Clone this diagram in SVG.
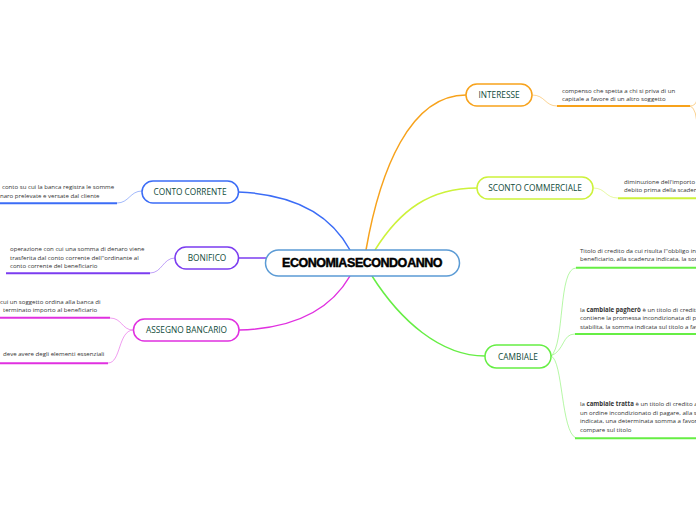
<svg xmlns="http://www.w3.org/2000/svg" width="696" height="520" viewBox="0 0 696 520">
<style>
.node{fill:#ffffff;stroke-width:1.5}
.lbl{font-family:"Open Sans","Noto Sans","Liberation Sans",sans-serif;font-size:8.3px;fill:#0f4b3a;text-anchor:middle}
.sub{font-family:"Open Sans","Noto Sans","Liberation Sans",sans-serif;font-size:6.1px;fill:#333333}
.b{font-weight:bold}
.main{fill:none;stroke-width:1.5}
.thin{fill:none;stroke-width:0.8;opacity:0.6}
.ul{fill:none;stroke-width:2}
.blue{stroke:#3b6cf6}.purple{stroke:#7b3cf0}.mag{stroke:#e030e0}.orange{stroke:#f7a21b}.yg{stroke:#cdf23b}.green{stroke:#66ee44}
</style>
<rect width="696" height="520" fill="#ffffff"/>
<g id="connectors">
<path class="main blue" d="M238,192 Q320,195 350,250"/>
<path class="main purple" d="M238,258 L266,258"/>
<path class="main mag" d="M350,276 Q320,328 239,330"/>
<path class="main orange" d="M366,250 C380,170 410,95 466,95"/>
<path class="main yg" d="M375,250 C400,210 430,188 477,188"/>
<path class="main green" d="M372,276 C400,320 440,356 485,356"/>
<path class="thin blue" d="M142,191 C130,191 129,203 117,203"/>
<path class="ul blue" d="M0,203.3 L117,203.3"/>
<path class="thin purple" d="M175,258 C163,258 162,273 150,273"/>
<path class="ul purple" d="M6,273.3 L150,273.3"/>
<path class="thin mag" d="M133,330 C122,330 122,318 110,318"/>
<path class="ul mag" d="M0,317.7 L110,317.7"/>
<path class="thin mag" d="M133,330 C118,331 121,363 108,363"/>
<path class="ul mag" d="M0,363.3 L108,363.3"/>
<path class="thin orange" d="M532,95 C545,95 545,106 557,106"/>
<path class="ul orange" d="M557,106 L690,106"/>
<path class="thin orange" d="M690,106 Q696,106 697,99"/>
<path class="thin orange" d="M690,106 Q697,108 697,130"/>
<path class="thin yg" d="M593,188 C606,188 605,198 618,198"/>
<path class="ul yg" d="M618,198.3 L696,198.3"/>
<path class="thin green" d="M551,356 C565,345 558,268 576,268"/>
<path class="ul green" d="M576,267.7 L696,267.7"/>
<path class="thin green" d="M551,356 C565,350 562,334 575,334"/>
<path class="ul green" d="M575,334 L696,334"/>
<path class="thin green" d="M551,356 C563,360 561,432 576,438"/>
<path class="ul green" d="M575,438.3 L696,438.3"/>
</g>
<g id="center">
<rect x="265.5" y="250" width="194" height="26" rx="13" fill="#ffffff" stroke="#5b9bd5" stroke-width="1.5"/>
<text x="362" y="267.3" text-anchor="middle" font-family="Liberation Sans, Arial, sans-serif" font-weight="900" font-size="12.5" letter-spacing="-0.5" word-spacing="-2.2" fill="#000000" stroke="#000000" stroke-width="0.45">ECONOMIA SECONDO ANNO</text>
</g>
<g id="conto-corrente">
<rect class="node blue" x="142" y="181" width="96.5" height="22" rx="11"/>
<text class="lbl" x="190" y="195">CONTO CORRENTE</text>
<text class="sub" x="2" y="188.7">conto su cui la banca registra le somme</text>
<text class="sub" x="0" y="197.7">naro prelevate e versate dal cliente</text>
</g>
<g id="bonifico">
<rect class="node purple" x="175" y="247" width="63.5" height="22" rx="11"/>
<text class="lbl" x="207" y="261">BONIFICO</text>
<text class="sub" x="10" y="251">operazione con cui una somma di denaro viene</text>
<text class="sub" x="10" y="259.5">trasferita dal conto corrente dell''ordinante al</text>
<text class="sub" x="10" y="268">conto corrente del beneficiario</text>
</g>
<g id="assegno-bancario">
<rect class="node mag" x="133.5" y="319" width="105.5" height="22" rx="11"/>
<text class="lbl" x="186.5" y="333">ASSEGNO BANCARIO</text>
<text class="sub" x="0" y="303.7">cui un soggetto ordina alla banca di</text>
<text class="sub" x="3" y="312">terminato importo al beneficiario</text>
<text class="sub" x="3" y="356">deve avere degli elementi essenziali</text>
</g>
<g id="interesse">
<rect class="node orange" x="466" y="84" width="66" height="22" rx="11"/>
<text class="lbl" x="499" y="98">INTERESSE</text>
<text class="sub" x="562" y="92.7">compenso che spetta a chi si priva di un</text>
<text class="sub" x="562" y="101">capitale a favore di un altro soggetto</text>
</g>
<g id="sconto-commerciale">
<rect class="node yg" x="477" y="177" width="116" height="22" rx="11"/>
<text class="lbl" x="535" y="191">SCONTO COMMERCIALE</text>
<text class="sub" x="624" y="184.3">diminuzione dell'importo d</text>
<text class="sub" x="624" y="192">debito prima della scaden</text>
</g>
<g id="cambiale">
<rect class="node green" x="485" y="345" width="66" height="23" rx="11.5"/>
<text class="lbl" x="518" y="359.5">CAMBIALE</text>
<text class="sub" x="580" y="253">Titolo di credito da cui risulta l''obbligo inco</text>
<text class="sub" x="580" y="261.3">beneficiario, alla scadenza indicata, la som</text>
<text class="sub" x="580" y="312">la <tspan class="b">cambiale pagherò</tspan> è un titolo di credito a</text>
<text class="sub" x="580" y="320.3">contiene la promessa incondizionata di pa</text>
<text class="sub" x="580" y="328.6">stabilita, la somma indicata sul titolo a fav</text>
<text class="sub" x="580" y="406">la <tspan class="b">cambiale tratta</tspan> è un titolo di credito all'o</text>
<text class="sub" x="580" y="414.7">un ordine incondizionato di pagare, alla so</text>
<text class="sub" x="580" y="423.4">indicata, una determinata somma a favore</text>
<text class="sub" x="580" y="432.1">compare sul titolo</text>
</g>
</svg>
